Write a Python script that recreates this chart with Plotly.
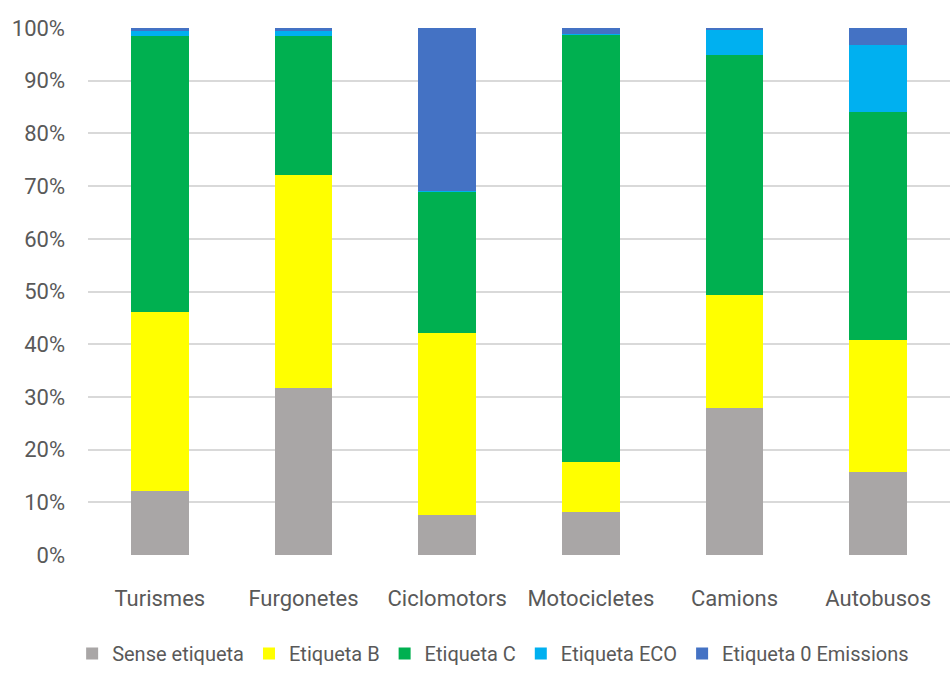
import plotly.graph_objects as go

categories = ["Turismes", "Furgonetes", "Ciclomotors", "Motocicletes", "Camions", "Autobusos"]

sense_etiqueta = [12.2, 31.7, 7.6, 8.2, 27.9, 15.7]
etiqueta_b = [33.9, 40.4, 34.5, 9.4, 21.4, 25.1]
etiqueta_c = [52.4, 26.4, 26.9, 81.2, 45.6, 43.2]
etiqueta_eco = [0.9, 0.9, 0.1, 0.1, 4.9, 12.8]
etiqueta_0 = [0.6, 0.6, 30.9, 1.1, 0.2, 3.2]

series = [
    ("Sense etiqueta", sense_etiqueta, "#A9A6A6"),
    ("Etiqueta B", etiqueta_b, "#FFFF00"),
    ("Etiqueta C", etiqueta_c, "#00B050"),
    ("Etiqueta ECO", etiqueta_eco, "#00B0F0"),
    ("Etiqueta 0 Emissions", etiqueta_0, "#4472C4"),
]

font_family = "Roboto, Arial, sans-serif"

fig = go.Figure()
for name, vals, color in series:
    fig.add_trace(go.Bar(
        name=name, x=categories, y=vals,
        marker=dict(color=color, line=dict(width=0)),
    ))

fig.update_layout(
    barmode="stack",
    bargap=0.6,
    width=950, height=673,
    margin=dict(l=88, r=0, t=28, b=118),
    paper_bgcolor="white",
    plot_bgcolor="white",
    font=dict(family=font_family, size=22, color="#595959"),
    showlegend=True,
    legend=dict(
        orientation="h", x=0.47, xanchor="center",
        yref="container", y=0.0, yanchor="bottom",
        font=dict(size=20, color="#595959"),
        traceorder="normal", itemwidth=30,
    ),
    xaxis=dict(
        showgrid=False, showline=False, ticks="",
        tickfont=dict(size=22, color="#595959"),
        ticklabelstandoff=28,
    ),
    yaxis=dict(
        range=[0, 100], tickmode="array",
        tickvals=[0, 10, 20, 30, 40, 50, 60, 70, 80, 90, 100],
        ticktext=["0%", "10%", "20%", "30%", "40%", "50%", "60%", "70%", "80%", "90%", "100%"],
        showgrid=True, gridcolor="#D9D9D9", gridwidth=1.5,
        zeroline=False, showline=False, ticks="",
        tickfont=dict(size=22, color="#595959"),
        ticklabelstandoff=22,
    ),
)

fig.write_html("out.html")
